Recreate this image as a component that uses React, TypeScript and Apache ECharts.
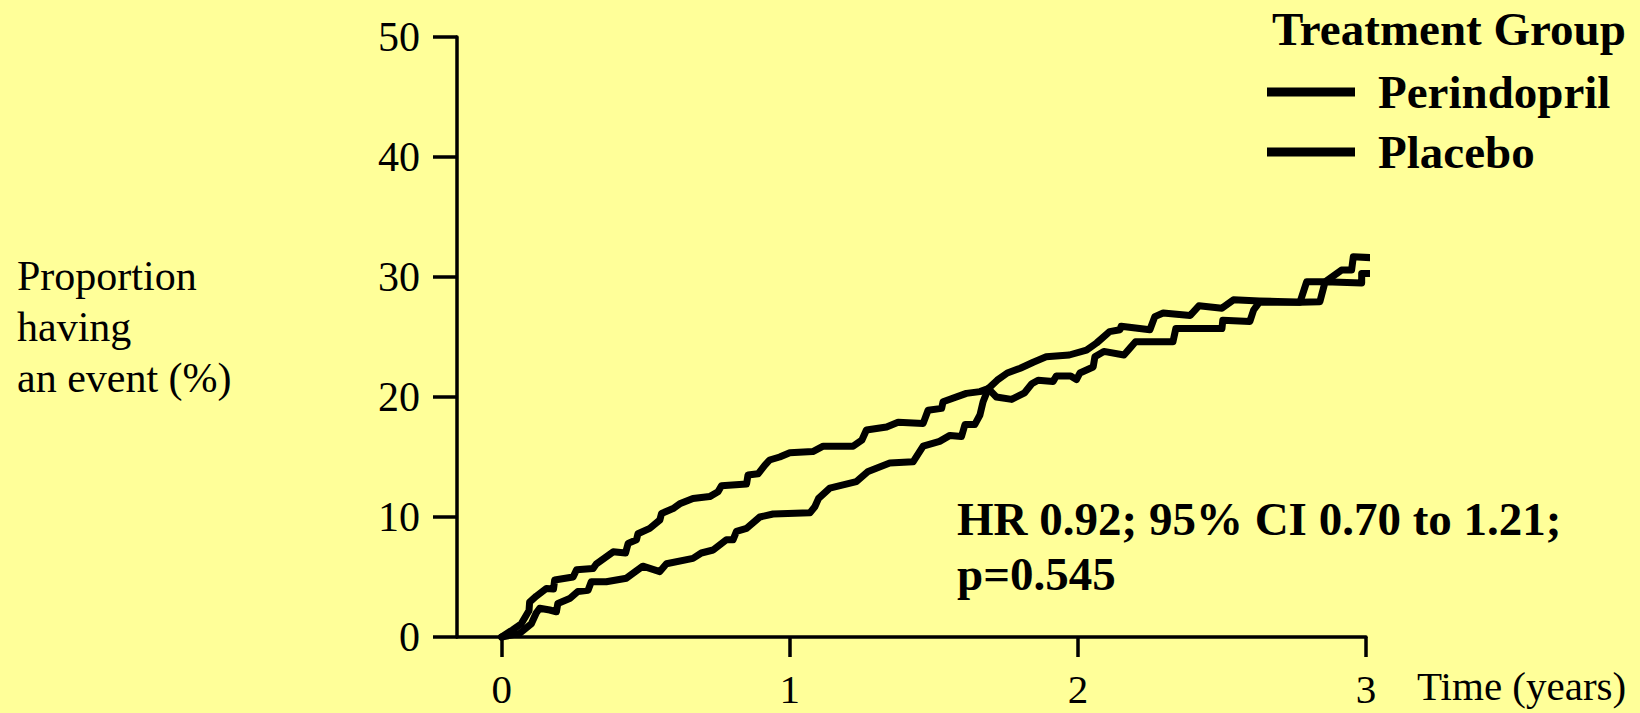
import React, { useEffect, useRef } from "react";
import * as echarts from "echarts";

const FONT = '"Liberation Serif", "Times New Roman", Times, serif';

// Time (years) and cumulative proportion having an event (%)
const placeboTime = [
  0, 0.038, 0.068, 0.09, 0.095, 0.097, 0.12, 0.155, 0.18, 0.184, 0.248, 0.26, 0.317, 0.329, 0.387,
  0.43, 0.439, 0.468, 0.473, 0.514, 0.549, 0.555, 0.595, 0.618, 0.664, 0.722, 0.751, 0.763, 0.85,
  0.855, 0.89, 0.913, 0.93, 0.965, 1.0, 1.08, 1.116, 1.22, 1.25, 1.266, 1.336, 1.376, 1.463, 1.48,
  1.527, 1.532, 1.613, 1.66, 1.689, 1.717, 1.77, 1.815, 1.84, 1.862, 1.914, 1.925, 1.975, 1.995,
  2.007, 2.053, 2.059, 2.09, 2.16, 2.18, 2.2, 2.33, 2.34, 2.5, 2.503, 2.597, 2.61, 2.63, 2.771,
  2.84, 2.858, 2.985, 2.985, 3.02,
];
const placeboPct = [
  0, 0.6, 1.1, 2.0, 2.2, 2.9, 3.4, 4.05, 4.0, 4.75, 5.0, 5.6, 5.7, 6.1, 7.1, 7.0, 7.8, 8.1, 8.6,
  9.05, 9.75, 10.3, 10.7, 11.1, 11.55, 11.7, 12.1, 12.6, 12.75, 13.5, 13.6, 14.3, 14.75, 15.0,
  15.35, 15.45, 15.9, 15.9, 16.4, 17.25, 17.5, 17.9, 17.8, 18.9, 19.05, 19.6, 20.3, 20.45, 20.7,
  20.0, 19.8, 20.35, 21.1, 21.4, 21.3, 21.75, 21.75, 21.45, 22.0, 22.5, 23.35, 23.8, 23.5, 24.05,
  24.6, 24.6, 25.7, 25.7, 26.4, 26.3, 27.25, 27.9, 27.9, 27.94, 29.6, 29.5, 30.3, 30.3,
];

const perindoprilTime = [
  0, 0.0625, 0.103, 0.12, 0.132, 0.167, 0.19, 0.195, 0.236, 0.265, 0.3, 0.311, 0.363, 0.433, 0.49,
  0.549, 0.572, 0.664, 0.693, 0.734, 0.78, 0.803, 0.815, 0.85, 0.896, 0.942, 1.07, 1.087, 1.1,
  1.139, 1.231, 1.272, 1.347, 1.428, 1.463, 1.52, 1.556, 1.596, 1.608, 1.642, 1.66, 1.671, 1.689,
  1.72, 1.755, 1.8, 1.845, 1.89, 1.97, 2.03, 2.065, 2.11, 2.146, 2.15, 2.25, 2.267, 2.296, 2.39,
  2.42, 2.5, 2.54, 2.63, 2.771, 2.794, 2.858, 2.915, 2.95, 2.956, 3.025,
];
const perindoprilPct = [
  0, 0.3, 1.1, 2.0, 2.4, 2.25, 2.1, 2.8, 3.2, 3.8, 3.9, 4.6, 4.6, 4.9, 5.9, 5.45, 6.1, 6.55, 7.0,
  7.25, 8.1, 8.1, 8.8, 9.05, 10.0, 10.25, 10.35, 10.85, 11.55, 12.4, 12.95, 13.8, 14.5, 14.6, 15.9,
  16.3, 16.8, 16.7, 17.7, 17.7, 18.5, 19.6, 20.7, 21.4, 22.0, 22.4, 22.9, 23.35, 23.5, 23.9, 24.5,
  25.45, 25.6, 25.9, 25.6, 26.7, 27.0, 26.8, 27.6, 27.4, 28.1, 28.0, 27.9, 29.6, 29.6, 30.58,
  30.58, 31.69, 31.6,
];

const xTickValues = [0, 1, 2, 3];
const seriesNames = ["Perindopril", "Placebo"];
const legendTitle = "Treatment Group";
const yAxisTitle = "Proportion\nhaving\nan event (%)";
const xAxisTitle = "Time (years)";
const statsText = "HR 0.92; 95% CI 0.70 to 1.21;\np=0.545";

const zip = (t: number[], v: number[]) => t.map((x, i) => [x, v[i]]);

export default function App() {
  const ref = useRef<HTMLDivElement>(null);

  useEffect(() => {
    if (!ref.current) return;
    const chart = echarts.init(ref.current, undefined, { renderer: "svg" });
    const lineCommon = {
      type: "line" as const,
      showSymbol: false,
      symbol: "none",
      clip: false,
      smooth: false,
      silent: true,
      emphasis: { disabled: true },
      itemStyle: { color: "#000" },
      lineStyle: { color: "#000", width: 7, cap: "round", join: "round" },
    };
    chart.setOption({
      animation: false,
      backgroundColor: "#FFFF99",
      textStyle: { fontFamily: FONT },
      grid: {
        left: 457,
        top: 37,
        right: 274,
        bottom: 76,
        containLabel: false,
        outerBoundsMode: "none",
      },
      xAxis: {
        type: "value",
        min: -0.155,
        max: 3,
        axisLine: { show: true, onZero: false, lineStyle: { color: "#000", width: 3.5 } },
        axisTick: {
          show: true,
          customValues: xTickValues,
          length: 20,
          lineStyle: { color: "#000", width: 3.5 },
        },
        axisLabel: {
          customValues: xTickValues,
          color: "#000",
          fontSize: 41,
          fontFamily: FONT,
          lineHeight: 34,
          margin: 35,
        },
        splitLine: { show: false },
      },
      yAxis: {
        type: "value",
        min: 0,
        max: 50,
        interval: 10,
        axisLine: { show: true, onZero: false, lineStyle: { color: "#000", width: 3.5 } },
        axisTick: { show: true, length: 24, lineStyle: { color: "#000", width: 3.5 } },
        axisLabel: { color: "#000", fontSize: 42, fontFamily: FONT, margin: 37 },
        splitLine: { show: false },
      },
      legend: {
        data: seriesNames,
        orient: "vertical",
        left: 1267,
        top: 62,
        itemGap: 0,
        itemWidth: 88,
        itemHeight: 9,
        icon: "rect",
        selectedMode: false,
        padding: 0,
        textStyle: {
          color: "#000",
          fontSize: 47,
          fontWeight: "bold",
          fontFamily: FONT,
          lineHeight: 60,
          padding: [0, 0, 0, 18],
        },
      },
      graphic: [
        {
          type: "text",
          left: 1272,
          top: 29 - 23.5,
          style: {
            text: legendTitle,
            fill: "#000",
            font: `bold 47px ${FONT}`,
            lineHeight: 47,
          },
        },
        {
          type: "text",
          left: 17,
          top: 250,
          style: {
            text: yAxisTitle,
            fill: "#000",
            font: `42px ${FONT}`,
            lineHeight: 51,
          },
        },
        {
          type: "text",
          left: 1417,
          top: 665,
          style: {
            text: xAxisTitle,
            fill: "#000",
            font: `41px ${FONT}`,
            lineHeight: 41,
          },
        },
        {
          type: "text",
          left: 957,
          top: 491.5,
          style: {
            text: statsText,
            fill: "#000",
            font: `bold 47px ${FONT}`,
            lineHeight: 55,
          },
        },
      ],
      series: [
        { ...lineCommon, name: "Placebo", data: zip(placeboTime, placeboPct) },
        { ...lineCommon, name: "Perindopril", data: zip(perindoprilTime, perindoprilPct) },
      ],
    });
    return () => chart.dispose();
  }, []);

  return (
    <div
      ref={ref}
      style={{ position: "fixed", left: 0, top: 0, width: 1640, height: 713 }}
    />
  );
}
